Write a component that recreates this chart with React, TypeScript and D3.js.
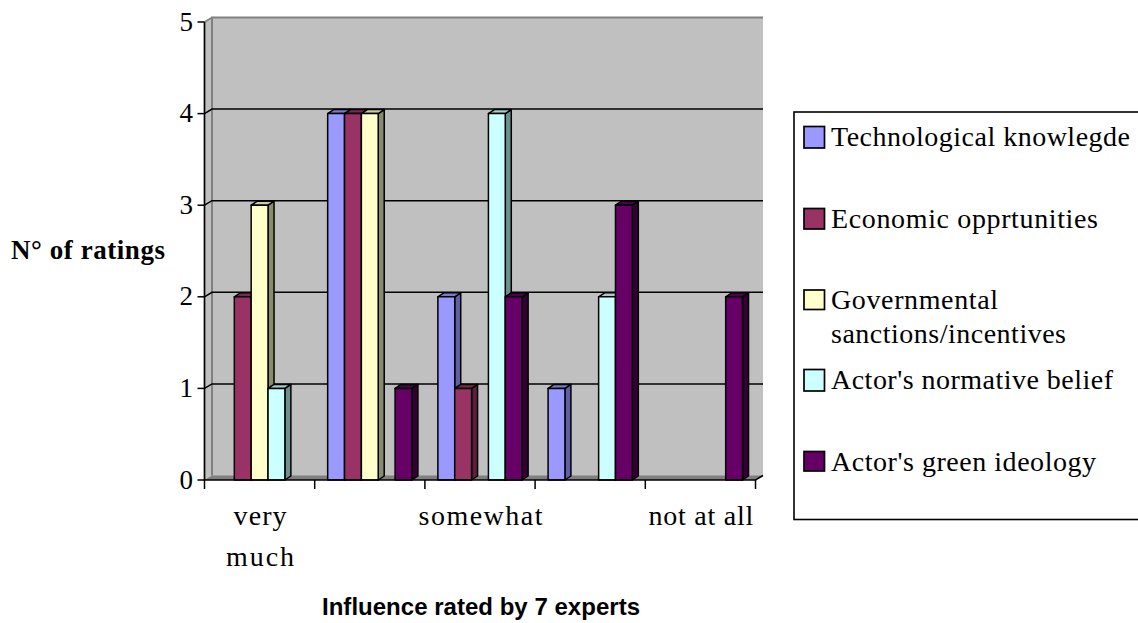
import React from "react";
import * as d3 from "d3";

const categories = ["c1", "c2", "c3", "c4", "c5"];
const categoryLabels: string[][] = [["very", "much"], [], ["somewhat"], [], ["not at all"]];
const seriesNames = ["Technological knowlegde", "Economic opprtunities", "Governmental sanctions/incentives", "Actor's normative belief", "Actor's green ideology"];
const technological = [0, 4, 2, 1, 0];
const economic = [2, 4, 1, 0, 0];
const governmental = [3, 4, 0, 0, 0];
const normative = [1, 0, 4, 2, 0];
const ideology = [0, 1, 2, 3, 2];
const seriesValues = [technological, economic, governmental, normative, ideology];
const fronts = ["#9999ff", "#993366", "#ffffcc", "#ccffff", "#660066"];
const sides = ["#5f5fa6", "#5e1f3f", "#8a8a6e", "#6f8f8f", "#330033"];
const tops = ["#7a7acc", "#7a2952", "#cccca3", "#a3cccc", "#4d004d"];
const yTicks = [0, 1, 2, 3, 4, 5];

const serif = "'Liberation Serif', serif";
const sans = "'Liberation Sans', sans-serif";
const DX = 7.5;
const DY = -4.5;
const BARDX = 6;
const BARDY = -4;

const legendRows: { lines: { t: string; w: number; b: number }[]; top: number; h: number }[] = [
  { lines: [{ t: seriesNames[0], w: 299, b: 146 }], top: 126.5, h: 21.5 },
  { lines: [{ t: seriesNames[1], w: 267, b: 228 }], top: 208.5, h: 20.5 },
  { lines: [{ t: "Governmental", w: 167, b: 309 }, { t: "sanctions/incentives", w: 235, b: 343 }], top: 290, h: 19.5 },
  { lines: [{ t: seriesNames[3], w: 282, b: 389 }], top: 369.5, h: 21.5 },
  { lines: [{ t: seriesNames[4], w: 265, b: 471 }], top: 451.5, h: 19.5 },
];
const labelWidths: Record<string, number> = { very: 53, much: 68, somewhat: 124, "not at all": 105 };

export default function App() {
  const x = d3.scaleBand<string>().domain(categories).range([204.5, 755.5]);
  const inner = d3
    .scaleBand<number>()
    .domain(d3.range(seriesNames.length))
    .range([0, x.bandwidth()])
    .paddingOuter(0.77)
    .paddingInner(0);
  const y = d3.scaleLinear().domain([0, 5]).range([480, 22]);
  const bw = inner.bandwidth();
  const x0 = 204.5, x1 = 755.5;

  return (
    <svg width={1138} height={623} style={{ position: "absolute", left: 0, top: 0, background: "#fff" }}>
      <polygon
        points={`${x0},${y(5)} ${x0 + DX},${y(5) + DY} ${x1 + DX},${y(5) + DY} ${x1 + DX},${y(0) + DY} ${x1},${y(0)} ${x0},${y(0)}`}
        fill="#c0c0c0"
      />
      <polygon
        points={`${x0},${y(0)} ${x0 + DX},${y(0) + DY} ${x1 + DX},${y(0) + DY} ${x1},${y(0)}`}
        fill="#808080"
      />
      <path
        d={`M${x0 + DX},${y(0) + DY}V${y(5) + DY}H${x1 + DX}`}
        fill="none"
        stroke="#808080"
        strokeWidth={2}
      />
      <line x1={x0} y1={y(5)} x2={x0 + DX} y2={y(5) + DY} stroke="#808080" strokeWidth={1.5} />
      {yTicks.filter((t) => t > 0 && t < 5).map((t) => (
        <path
          key={t}
          d={`M${x0},${y(t)}L${x0 + DX},${y(t) + DY}H${x1 + DX}`}
          fill="none"
          stroke="#000"
          strokeWidth={1.5}
        />
      ))}
      {seriesNames.map((_, s) =>
        categories.map((c, i) => {
          const v = seriesValues[s][i];
          if (!v) return null;
          const bx = (x(c) as number) + (inner(s) as number);
          const by = y(v);
          const h = y(0) - by;
          return (
            <g key={`${s}-${i}`} stroke="#000" strokeWidth={1.5} strokeLinejoin="round">
              <polygon
                points={`${bx + bw},${by} ${bx + bw + BARDX},${by + BARDY} ${bx + bw + BARDX},${by + h + BARDY} ${bx + bw},${by + h}`}
                fill={sides[s]}
              />
              <polygon
                points={`${bx},${by} ${bx + BARDX},${by + BARDY} ${bx + bw + BARDX},${by + BARDY} ${bx + bw},${by}`}
                fill={tops[s]}
              />
              <rect x={bx} y={by} width={bw} height={h} fill={fronts[s]} />
            </g>
          );
        })
      )}
      <path d={`M${x0},${y(5)}V${y(0)}H${x1}L${x1 + DX},${y(0) + DY}`} fill="none" stroke="#000" strokeWidth={1.7} />
      {yTicks.map((t) => (
        <g key={t}>
          <line x1={x0 - 7} x2={x0} y1={y(t)} y2={y(t)} stroke="#000" strokeWidth={1.5} />
          <text x={193} y={y(t) + 8.5} textAnchor="end" fontFamily={serif} fontSize={27} fill="#000">
            {t}
          </text>
        </g>
      ))}
      {[...categories.map((c) => x(c) as number), x1].map((tx, i) => (
        <line key={i} x1={tx} x2={tx} y1={y(0)} y2={y(0) + 9} stroke="#000" strokeWidth={1.5} />
      ))}
      {categories.map((c, i) =>
        categoryLabels[i].map((line, j) => (
          <text
            key={`${c}-${j}`}
            x={(x(c) as number) + x.bandwidth() / 2 + 0.5}
            y={525 + j * 41}
            textAnchor="middle"
            fontFamily={serif}
            fontSize={28}
            textLength={labelWidths[line]}
            lengthAdjust="spacing"
            fill="#000"
          >
            {line}
          </text>
        ))
      )}
      <text x={11} y={259} fontFamily={serif} fontSize={27} fontWeight={700} textLength={154} lengthAdjust="spacing" fill="#000">
        N° of ratings
      </text>
      <text x={322} y={615} fontFamily={sans} fontSize={24} fontWeight={700} textLength={318} lengthAdjust="spacing" fill="#000">
        Influence rated by 7 experts
      </text>
      <rect x={794} y={112} width={360} height={407.5} fill="#fff" stroke="#000" strokeWidth={1.6} />
      {legendRows.map((r, i) => (
        <g key={i}>
          <rect x={804} y={r.top} width={20.5} height={r.h} fill={fronts[i]} stroke="#000" strokeWidth={1.7} />
          {r.lines.map((l, j) => (
            <text key={j} x={831} y={l.b} fontFamily={serif} fontSize={28} textLength={l.w} lengthAdjust="spacing" fill="#000">
              {l.t}
            </text>
          ))}
        </g>
      ))}
    </svg>
  );
}
